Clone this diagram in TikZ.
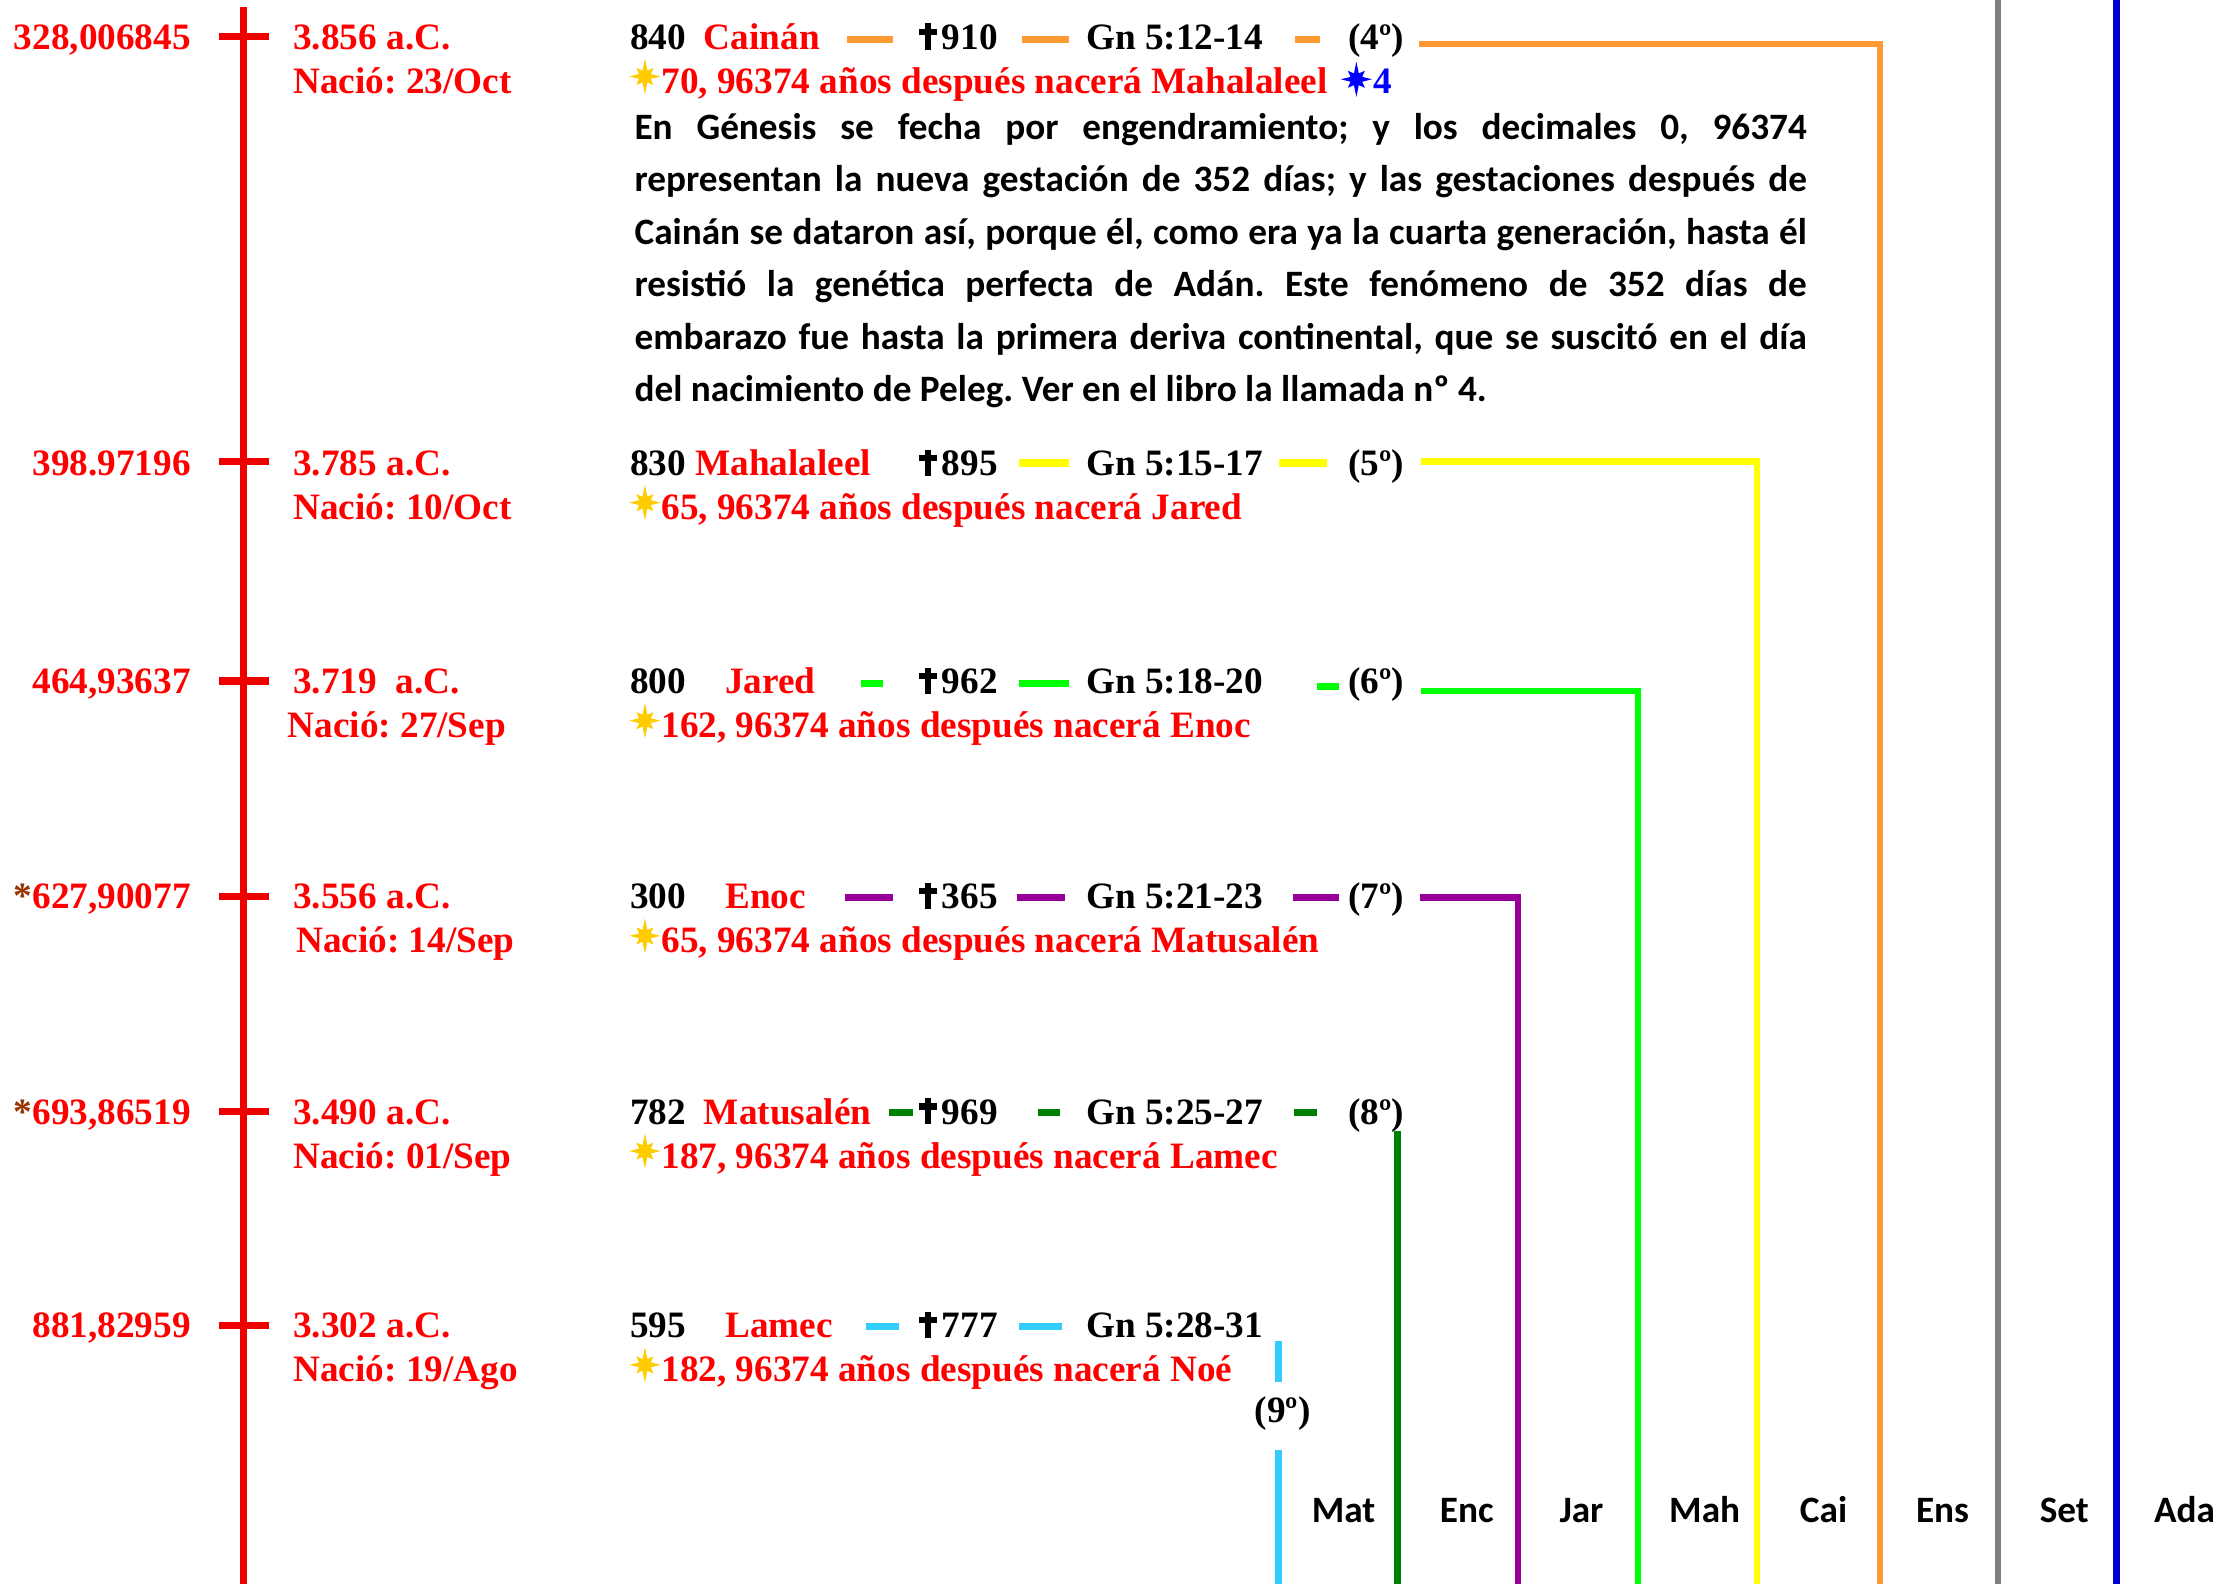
\documentclass[tikz,border=0pt]{standalone}
\usepackage{fontspec}
\newfontfamily\tnr{Liberation Serif}
\newfontfamily\calfont{Carlito}
\frenchspacing
\definecolor{cRed}{HTML}{FF0000}
\definecolor{cLine}{HTML}{EE0000}
\definecolor{cOrange}{HTML}{FF9933}
\definecolor{cYellow}{HTML}{FFFF00}
\definecolor{cGreen}{HTML}{00FF00}
\definecolor{cPurple}{HTML}{990099}
\definecolor{cDkGreen}{HTML}{008000}
\definecolor{cCyan}{HTML}{33CCFF}
\definecolor{cGray}{HTML}{808080}
\definecolor{cBlue}{HTML}{0000CC}
\definecolor{cStarB}{HTML}{0000FF}
\definecolor{cStar}{HTML}{FFCC00}
\definecolor{cAst}{HTML}{993300}
\begin{document}
\begin{tikzpicture}[x=1pt,y=-1pt,
  tx/.style={font=\tnr\bfseries\frenchspacing\fontsize{26.3}{30}\selectfont, inner sep=0pt, anchor=base west},
  txr/.style={tx, text=cRed},
  num/.style={tx, text=cRed, anchor=base east},
  cb/.style={font=\calfont\bfseries\fontsize{26.3}{30}\selectfont, inner sep=0pt, anchor=base},
  seg/.style={line width=5pt},
  vline/.style={line width=4.5pt, line join=miter},
  axis/.style={line width=5pt, cLine},
  pics/star8/.style={code={\fill[#1] (90:12.5) -- (112.5:4.5) -- (135:8.5) -- (157.5:4.5) -- (180:11) -- (202.5:4.5) -- (225:8.5) -- (247.5:4.5) -- (270:12.5) -- (292.5:4.5) -- (315:8.5) -- (337.5:4.5) -- (0:11) -- (22.5:4.5) -- (45:8.5) -- (67.5:4.5) -- cycle;}},
  pics/lcross/.style={code={\fill (-2.4,-18.5) rectangle (2.4,0); \fill (-6.6,-14.8) rectangle (6.6,-10.3);}}
]
\useasboundingbox[fill=white] (0,0) rectangle (1568,1119);

% main red axis
\coordinate (axTop) at (172,5);
\coordinate (axBot) at (172,1119);
\draw[axis] (axTop) -- (axBot);

% right-hand vertical lines (full height)
\coordinate (grTop) at (1411,0); \coordinate (grBot) at (1411,1119);
\coordinate (blTop) at (1495,0); \coordinate (blBot) at (1495,1119);
\draw[vline,cGray] (grTop) -- (grBot);
\draw[vline,cBlue] (blTop) -- (blBot);

% ---------- Row 1 : Cainan ----------
\draw[axis] (155,26) -- (190,26);
\node[num] (n1) at (135,35) {328,006845};
\node[txr] (d1) at (207,35) {3.856 a.C.};
\node[txr] (b1) at (207,66) {Nació: 23/Oct};
\node[tx] (y1) at (445,35) {840};
\node[txr] (p1) at (497,35) {Cainán};
\draw[seg,cOrange] (598,28) -- (631,28);
\pic at (655.5,35) {lcross};
\node[tx] (m1) at (665,35) {910};
\draw[seg,cOrange] (722,28) -- (755,28);
\node[tx] (g1) at (767,35) {Gn 5:12-14};
\draw[seg,cOrange] (915,28) -- (932,28);
\node[tx] (o1) at (952,35) {(4º)};
\pic at (455.5,54) {star8=cStar};
\node[txr] (s1) at (467,66) {70, 96374 años después nacerá Mahalaleel};
\pic at (958,56) {star8=cStarB};
\node[tx,text=cStarB] (k1) at (970,66) {4};
\coordinate (c1a) at (1002,31); \coordinate (c1b) at (1328,31); \coordinate (c1c) at (1328,1119);
\draw[vline,cOrange] (c1a) -- (c1b) -- (c1c);

\node[anchor=base west, inner sep=0pt, font=\calfont\bfseries] (par) at (448,98.5)
 {\parbox[t]{828pt}{\fontsize{26.3}{37}\selectfont\frenchspacing\tolerance=9999 \hyphenpenalty=10000 \emergencystretch=20pt
 En Génesis se fecha por engendramiento; y los decimales 0, 96374\linebreak
 representan la nueva gestación de 352 días; y las gestaciones después de\linebreak
 Cainán se dataron así, porque él, como era ya la cuarta generación, hasta él\linebreak
 resistió la genética perfecta de Adán. Este fenómeno de 352 días de\linebreak
 embarazo fue hasta la primera deriva continental, que se suscitó en el día\linebreak
 del nacimiento de Peleg. Ver en el libro la llamada nº 4.}};

% ---------- Row 2 : Mahalaleel ----------
\draw[axis] (155,326) -- (190,326);
\node[num] (n2) at (135,336) {398.97196};
\node[txr] (d2) at (207,336) {3.785 a.C.};
\node[txr] (b2) at (207,367) {Nació: 10/Oct};
\node[tx] (y2) at (445,336) {830};
\node[txr] (p2) at (491,336) {Mahalaleel};
\pic at (655.5,336) {lcross};
\node[tx] (m2) at (665,336) {895};
\draw[seg,cYellow] (720,327) -- (755,327);
\node[tx] (g2) at (767,336) {Gn 5:15-17};
\draw[seg,cYellow] (903,327) -- (937,327);
\node[tx] (o2) at (952,336) {(5º)};
\pic at (455.5,355) {star8=cStar};
\node[txr] (s2) at (467,367) {65, 96374 años después nacerá Jared};
\coordinate (c2a) at (1004,326); \coordinate (c2b) at (1241,326); \coordinate (c2c) at (1241,1119);
\draw[vline,cYellow] (c2a) -- (c2b) -- (c2c);

% ---------- Row 3 : Jared ----------
\draw[axis] (155,481) -- (190,481);
\node[num] (n3) at (135,490) {464,93637};
\node[txr] (d3) at (207,490) {3.719\ \ a.C.};
\node[txr] (b3) at (203,521) {Nació: 27/Sep};
\node[tx] (y3) at (445,490) {800};
\node[txr] (p3) at (512,490) {Jared};
\draw[seg,cGreen] (608,483) -- (624,483);
\pic at (655.5,490) {lcross};
\node[tx] (m3) at (665,490) {962};
\draw[seg,cGreen] (720,483) -- (755,483);
\node[tx] (g3) at (767,490) {Gn 5:18-20};
\draw[seg,cGreen] (930,485) -- (946,485);
\node[tx] (o3) at (952,490) {(6º)};
\pic at (455.5,509) {star8=cStar};
\node[txr] (s3) at (467,521) {162, 96374 años después nacerá Enoc};
\coordinate (c3a) at (1004,488); \coordinate (c3b) at (1157,488); \coordinate (c3c) at (1157,1119);
\draw[vline,cGreen] (c3a) -- (c3b) -- (c3c);

% ---------- Row 4 : Enoc ----------
\draw[axis] (155,633) -- (190,633);
\node[num] (n4) at (135,642) {\textcolor{cAst}{*}627,90077};
\node[txr] (d4) at (207,642) {3.556 a.C.};
\node[txr] (b4) at (209,673) {Nació: 14/Sep};
\node[tx] (y4) at (445,642) {300};
\node[txr] (p4) at (512,642) {Enoc};
\draw[seg,cPurple] (597,634) -- (631,634);
\pic at (655.5,642) {lcross};
\node[tx] (m4) at (665,642) {365};
\draw[seg,cPurple] (718,634) -- (752,634);
\node[tx] (g4) at (767,642) {Gn 5:21-23};
\draw[seg,cPurple] (913,634) -- (946,634);
\node[tx] (o4) at (952,642) {(7º)};
\pic at (455.5,661) {star8=cStar};
\node[txr] (s4) at (467,673) {65, 96374 años después nacerá Matusalén};
\coordinate (c4a) at (1003,634); \coordinate (c4b) at (1072,634); \coordinate (c4c) at (1072,1119);
\draw[vline,cPurple] (c4a) -- (c4b) -- (c4c);

% ---------- Row 5 : Matusalen ----------
\draw[axis] (155,785) -- (190,785);
\node[num] (n5) at (135,794) {\textcolor{cAst}{*}693,86519};
\node[txr] (d5) at (207,794) {3.490 a.C.};
\node[txr] (b5) at (207,825) {Nació: 01/Sep};
\node[tx] (y5) at (445,794) {782};
\node[txr] (p5) at (497,794) {Matusalén};
\draw[seg,cDkGreen] (628,786) -- (645,786);
\pic at (655.5,794) {lcross};
\node[tx] (m5) at (665,794) {969};
\draw[seg,cDkGreen] (733,786) -- (749,786);
\node[tx] (g5) at (767,794) {Gn 5:25-27};
\draw[seg,cDkGreen] (914,786) -- (930,786);
\node[tx] (o5) at (952,794) {(8º)};
\pic at (455.5,813) {star8=cStar};
\node[txr] (s5) at (467,825) {187, 96374 años después nacerá Lamec};
\coordinate (c5a) at (987,799); \coordinate (c5c) at (987,1119);
\draw[vline,cDkGreen] (c5a) -- (c5c);

% ---------- Row 6 : Lamec ----------
\draw[axis] (155,936) -- (190,936);
\node[num] (n6) at (135,945) {881,82959};
\node[txr] (d6) at (207,945) {3.302 a.C.};
\node[txr] (b6) at (207,976) {Nació: 19/Ago};
\node[tx] (y6) at (445,945) {595};
\node[txr] (p6) at (512,945) {Lamec};
\draw[seg,cCyan] (612,937) -- (635,937);
\pic at (655.5,945) {lcross};
\node[tx] (m6) at (665,945) {777};
\draw[seg,cCyan] (720,937) -- (750,937);
\node[tx] (g6) at (767,945) {Gn 5:28-31};
\pic at (455.5,964) {star8=cStar};
\node[txr] (s6) at (467,976) {182, 96374 años después nacerá Noé};
\node[tx, anchor=base] (o6) at (906,1005) {(9º)};
\coordinate (c6a) at (903,947); \coordinate (c6b) at (903,976);
\coordinate (c6c) at (903,1024); \coordinate (c6d) at (903,1119);
\draw[vline,cCyan] (c6a) -- (c6b);
\draw[vline,cCyan] (c6c) -- (c6d);

% ---------- bottom labels ----------
\node[cb] (lMat) at (949,1075) {Mat};
\node[cb] (lEnc) at (1036,1075) {Enc};
\node[cb] (lJar) at (1117,1075) {Jar};
\node[cb] (lMah) at (1204,1075) {Mah};
\node[cb] (lCai) at (1288,1075) {Cai};
\node[cb] (lEns) at (1372,1075) {Ens};
\node[cb] (lSet) at (1458,1075) {Set};
\node[cb] (lAda) at (1543,1075) {Ada};
\end{tikzpicture}
\end{document}
